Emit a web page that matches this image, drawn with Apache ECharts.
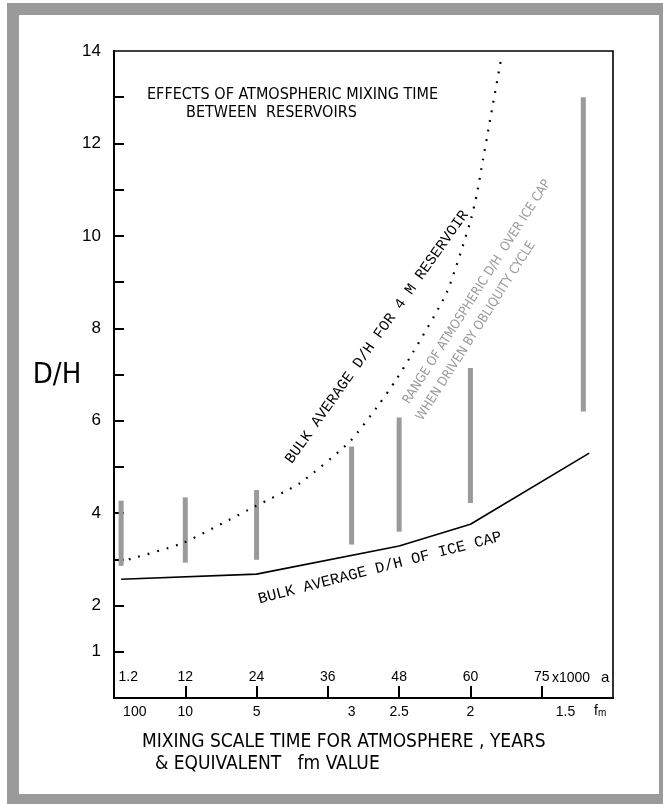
<!DOCTYPE html>
<html>
<head>
<meta charset="utf-8">
<title>D/H and atmospheric mixing time</title>
<script type="text/javascript" src="https://cdn.jsdelivr.net/npm/echarts@6/dist/echarts.min.js"></script>
<style>
  html, body { margin: 0; padding: 0; background: #fff; }
  #frame { position: absolute; left: 7px; top: 3px; width: 656px; height: 801px; background: #9a9a9a; }
  #paper { position: absolute; left: 19px; top: 15px; width: 640px; height: 779px; background: #fff; }
  #main { position: absolute; left: 0; top: 0; width: 663px; height: 804px; }
</style>
</head>
<body>
<div id="frame"></div>
<div id="paper"></div>
<div id="main"></div>
<script type="text/javascript">
// x is the mixing scale time in thousands of years
var yearTicks = [12, 24, 36, 48, 60, 72];
var yearLabelPos = [2.4, 12, 24, 36, 48, 60, 72];
var yearLabels = ['1.2', '12', '24', '36', '48', '60', '75'];
var fmLabelPos = [3.5, 12, 24, 40, 48, 60, 76];
var fmLabels = ['100', '10', '5', '3', '2.5', '2', '1.5'];
var dhTicks = [1, 2, 3, 4, 5, 6, 7, 8, 9, 10, 11, 12, 13];
var dhLabels = [1, 2, 4, 6, 8, 10, 12, 14];

// bulk average D/H of ice cap (solid)
var iceX = [1.2, 24, 48, 60, 80];
var iceDH = [2.57, 2.68, 3.29, 3.76, 5.30];

// bulk average D/H for 4 m reservoir (dotted)
var resX = [2.5, 11.5, 23.8, 31.3, 39.7, 44.7, 47.3, 50.3, 56.0, 59.9, 61.0, 62.1, 63.1, 65.2];
var resDH = [3.0, 3.35, 4.15, 4.65, 5.55, 6.37, 6.85, 7.47, 8.77, 10.27, 10.85, 11.64, 12.36, 13.85];

// range of atmospheric D/H over ice cap (grey bars)
var rangeX = [1.2, 12, 24, 40, 48, 60, 79];
var rangeLow = [2.86, 2.93, 2.99, 3.32, 3.60, 4.22, 6.2];
var rangeHigh = [4.27, 4.34, 4.50, 5.44, 6.07, 7.14, 13.0];

var sans = "'Liberation Sans', 'DejaVu Sans', sans-serif";
var narrow = "'Liberation Sans Narrow', 'DejaVu Sans Condensed', 'Liberation Sans', sans-serif";
var mono = "'Liberation Mono', 'DejaVu Sans Mono', monospace";
var grey = '#9a9a9a';

function pairs(xs, ys) {
  return xs.map(function (x, i) { return [x, ys[i]]; });
}
function deg(a) { return a * Math.PI / 180; }

var chart = echarts.init(document.getElementById('main'));

var option = {
  animation: false,
  grid: {
    left: 114, right: 50, top: 51, bottom: 106,
    show: true, borderColor: '#000', borderWidth: 1.6,
    outerBoundsMode: 'none'
  },
  xAxis: [{
    type: 'value', min: 0, max: 84, position: 'bottom',
    axisLine: { show: true, lineStyle: { color: '#000', width: 2 } },
    axisTick: { show: true, inside: true, length: 12, customValues: yearTicks, lineStyle: { color: '#000', width: 2 } },
    axisLabel: {
      inside: true, margin: 14, customValues: yearLabelPos, color: '#000',
      fontFamily: sans, fontSize: 14,
      formatter: function (v) { return yearLabels[yearLabelPos.indexOf(v)]; }
    },
    splitLine: { show: false }
  }, {
    type: 'value', min: 0, max: 84, position: 'bottom',
    axisLine: { show: false }, axisTick: { show: false },
    axisLabel: {
      margin: 7, customValues: fmLabelPos, color: '#000',
      fontFamily: sans, fontSize: 14,
      formatter: function (v) { return fmLabels[fmLabelPos.indexOf(v)]; }
    },
    splitLine: { show: false }
  }],
  yAxis: {
    type: 'value', min: 0, max: 14,
    axisLine: { show: true, lineStyle: { color: '#000', width: 2 } },
    axisTick: { show: true, inside: true, length: 10, customValues: dhTicks, lineStyle: { color: '#000', width: 2 } },
    axisLabel: { margin: 13, customValues: dhLabels, color: '#000', fontFamily: sans, fontSize: 17 },
    splitLine: { show: false }
  },
  series: [{
    type: 'custom',
    name: 'range',
    data: rangeX.map(function (x, i) { return [x, rangeLow[i], rangeHigh[i]]; }),
    encode: { x: 0, y: [1, 2] },
    renderItem: function (params, api) {
      var hi = api.coord([api.value(0), api.value(2)]);
      var lo = api.coord([api.value(0), api.value(1)]);
      return {
        type: 'rect',
        shape: { x: hi[0] - 2.5, y: hi[1], width: 5, height: lo[1] - hi[1] },
        style: { fill: grey }
      };
    },
    z: 1
  }, {
    type: 'line',
    name: 'ice cap',
    data: pairs(iceX, iceDH),
    symbol: 'none',
    lineStyle: { color: '#000', width: 1.6 },
    z: 3
  }, {
    type: 'line',
    name: '4 m reservoir',
    data: pairs(resX, resDH),
    symbol: 'none',
    smooth: 0.2,
    lineStyle: { color: '#000', width: 2.2, type: [1.8, 8] },
    z: 3
  }],
  graphic: [
    { type: 'text', x: 147, y: 95, style: { text: 'EFFECTS OF ATMOSPHERIC MIXING TIME', font: '16px ' + narrow, fill: '#000', align: 'left', verticalAlign: 'middle' } },
    { type: 'text', x: 186, y: 113, style: { text: 'BETWEEN  RESERVOIRS', font: '16px ' + narrow, fill: '#000', align: 'left', verticalAlign: 'middle' } },
    { type: 'text', x: 57, y: 375, style: { text: 'D/H', font: '29px ' + narrow, fill: '#000', align: 'center', verticalAlign: 'middle' } },
    { type: 'text', x: 552, y: 678, style: { text: 'x1000', font: '14px ' + sans, fill: '#000', align: 'left', verticalAlign: 'middle' } },
    { type: 'text', x: 601, y: 678, style: { text: 'a', font: '15px ' + sans, fill: '#000', align: 'left', verticalAlign: 'middle' } },
    { type: 'text', x: 594, y: 711, style: { text: 'f{m|m}', font: '14px ' + sans, fill: '#000', align: 'left', verticalAlign: 'middle', rich: { m: { fontSize: 10, fontFamily: sans, padding: [5, 0, 0, 0] } } } },
    { type: 'text', x: 142, y: 742, style: { text: 'MIXING SCALE TIME FOR ATMOSPHERE , YEARS', font: '19px ' + narrow, fill: '#000', align: 'left', verticalAlign: 'middle' } },
    { type: 'text', x: 155, y: 764, style: { text: '& EQUIVALENT   fm VALUE', font: '19px ' + narrow, fill: '#000', align: 'left', verticalAlign: 'middle' } },
    { type: 'text', x: 377, y: 337, rotation: deg(54.7), style: { text: 'BULK AVERAGE D/H FOR 4 M RESERVOIR', font: '15px ' + mono, fill: '#000', align: 'center', verticalAlign: 'middle' } },
    { type: 'text', x: 380, y: 568, rotation: deg(14.5), style: { text: 'BULK AVERAGE D/H OF ICE CAP', font: '15.5px ' + mono, fill: '#000', align: 'center', verticalAlign: 'middle' } },
    { type: 'text', x: 477, y: 292, rotation: deg(57.4), style: { text: 'RANGE OF ATMOSPHERIC D/H  OVER ICE CAP', font: '13px ' + narrow, fill: grey, align: 'center', verticalAlign: 'middle' } },
    { type: 'text', x: 476, y: 331, rotation: deg(57.4), style: { text: 'WHEN DRIVEN BY OBLIQUITY CYCLE', font: '13px ' + narrow, fill: grey, align: 'center', verticalAlign: 'middle' } }
  ]
};

chart.setOption(option);
</script>
</body>
</html>
